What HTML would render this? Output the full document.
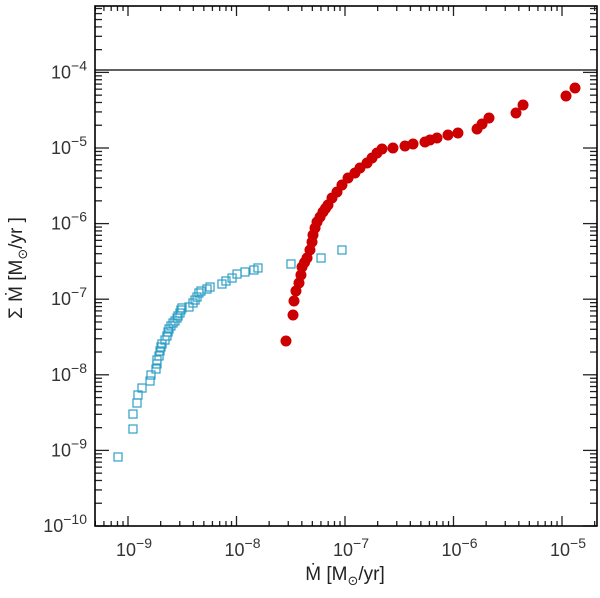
<!DOCTYPE html>
<html><head><meta charset="utf-8"><style>
html,body{margin:0;padding:0;background:#fff;}
svg{display:block;font-family:"Liberation Sans","DejaVu Sans",sans-serif;}
</style></head><body>
<svg id="chart" width="600" height="598" viewBox="0 0 600 598" xmlns="http://www.w3.org/2000/svg">
<g id="ticks"></g>
<g id="labels"></g>
<line id="refline" stroke="#000" stroke-width="1.2"/>
<g id="blue"></g>
<g id="red"></g>
<rect x="95" y="6" width="502" height="520" fill="none" stroke="#000" stroke-width="1.6"/>
<text x="345" y="580" font-size="19" text-anchor="middle" fill="#222">Ṁ  [M<tspan font-size="13" dy="5">⊙</tspan><tspan dy="-5">/yr]</tspan></text>
<text transform="translate(22,268) rotate(-90)" font-size="19" text-anchor="middle" fill="#222">Σ Ṁ  [M<tspan font-size="13" dy="5">⊙</tspan><tspan dy="-5">/yr ]</tspan></text>
</svg>
<script>
const xTickExps = [-9, -8, -7, -6, -5];
const yTickExps = [-10, -9, -8, -7, -6, -5, -4];
const refLineLog = -3.968;
const blueLogX = [-9.092,-8.954,-8.954,-8.917,-8.908,-8.871,-8.797,-8.788,-8.742,-8.733,-8.733,-8.714,-8.705,-8.696,-8.687,-8.659,-8.641,-8.631,-8.622,-8.604,-8.585,-8.567,-8.548,-8.539,-8.521,-8.512,-8.502,-8.438,-8.401,-8.382,-8.364,-8.346,-8.327,-8.272,-8.244,-8.134,-8.097,-8.041,-7.995,-7.922,-7.839,-7.802,-7.498,-7.221,-7.028];
const blueLogY = [-9.087,-8.717,-8.519,-8.373,-8.267,-8.175,-8.082,-8.003,-7.923,-7.857,-7.804,-7.751,-7.685,-7.632,-7.593,-7.540,-7.487,-7.434,-7.394,-7.354,-7.315,-7.288,-7.249,-7.222,-7.183,-7.143,-7.116,-7.103,-7.050,-7.011,-6.971,-6.918,-6.892,-6.865,-6.839,-6.799,-6.759,-6.720,-6.667,-6.640,-6.614,-6.587,-6.534,-6.455,-6.349];
const redLogX = [-7.544,-7.479,-7.470,-7.452,-7.424,-7.406,-7.396,-7.373,-7.350,-7.323,-7.304,-7.295,-7.276,-7.258,-7.230,-7.203,-7.180,-7.157,-7.120,-7.074,-7.028,-6.972,-6.908,-6.862,-6.797,-6.751,-6.705,-6.659,-6.558,-6.447,-6.373,-6.263,-6.217,-6.152,-6.051,-5.959,-5.783,-5.737,-5.673,-5.424,-5.359,-4.963,-4.880];
const redLogY = [-7.553,-7.209,-7.024,-6.892,-6.786,-6.680,-6.574,-6.515,-6.455,-6.349,-6.243,-6.151,-6.058,-5.979,-5.913,-5.847,-5.800,-5.754,-5.661,-5.582,-5.489,-5.397,-5.331,-5.265,-5.198,-5.132,-5.066,-5.013,-5.000,-4.974,-4.947,-4.921,-4.894,-4.868,-4.828,-4.802,-4.749,-4.683,-4.603,-4.537,-4.431,-4.312,-4.206];

const L=95,R=597,T=6,B=526;
const xs = v => 128 + (v + 9) * 108.5;
const ys = v => 526 - (v + 10) * 75.6;
const NS="http://www.w3.org/2000/svg";
function mk(tag, attrs, parent){const e=document.createElementNS(NS,tag);for(const k in attrs)e.setAttribute(k,attrs[k]);parent.appendChild(e);return e;}
const tg=document.getElementById('ticks'), lg=document.getElementById('labels');
for(let d=-10; d<=-5; d++){
  for(let m=1;m<=9;m++){
    const v=d+Math.log10(m), x=xs(v);
    if(x<L||x>R) continue;
    const len=m===1?10:5;
    const t1=mk('line',{x1:x,x2:x,y1:B,y2:B-len,stroke:'#222','stroke-width':1.3},tg);
    
    
    const t2=mk('line',{x1:x,x2:x,y1:T,y2:T+len,stroke:'#222','stroke-width':1.3},tg);
    
    
  }
}
for(let d=-10; d<=-3; d++){
  for(let m=1;m<=9;m++){
    const v=d+Math.log10(m), y=ys(v);
    if(y<T||y>B) continue;
    const len=m===1?14:7;
    const t1=mk('line',{x1:L,x2:L+len,y1:y,y2:y,stroke:'#222','stroke-width':1.3},tg);
    
    
    const t2=mk('line',{x1:R,x2:R-len,y1:y,y2:y,stroke:'#222','stroke-width':1.3},tg);
    
    
  }
}
xTickExps.forEach(e=>{
  const t=mk('text',{x:xs(e)+6,y:556,'font-size':18,'text-anchor':'middle',fill:'#333'},lg);
  
  
  t.innerHTML='10<tspan dy="-8" font-size="14">−'+(-e)+'</tspan>';
});
yTickExps.forEach(e=>{
  const t=mk('text',{x:87,y:ys(e)+6,'font-size':18,'text-anchor':'end',fill:'#333'},lg);
  
  
  t.innerHTML='10<tspan dy="-8" font-size="14">−'+(-e)+'</tspan>';
});
const rl=document.getElementById('refline');
rl.setAttribute('x1',L);rl.setAttribute('x2',R);rl.setAttribute('y1',ys(refLineLog));rl.setAttribute('y2',ys(refLineLog));
const bg=document.getElementById('blue');
blueLogX.forEach((v,i)=>{
  const r=mk('rect',{x:xs(v)-4,y:ys(blueLogY[i])-4,width:8,height:8,fill:'none',stroke:'#2f9fc6','stroke-width':1.2},bg);
  
  
});
const rg=document.getElementById('red');
redLogX.forEach((v,i)=>{
  const c=mk('circle',{cx:xs(v),cy:ys(redLogY[i]),r:5.5,fill:'#cc0000'},rg);
  
  
});
</script>
</body></html>
